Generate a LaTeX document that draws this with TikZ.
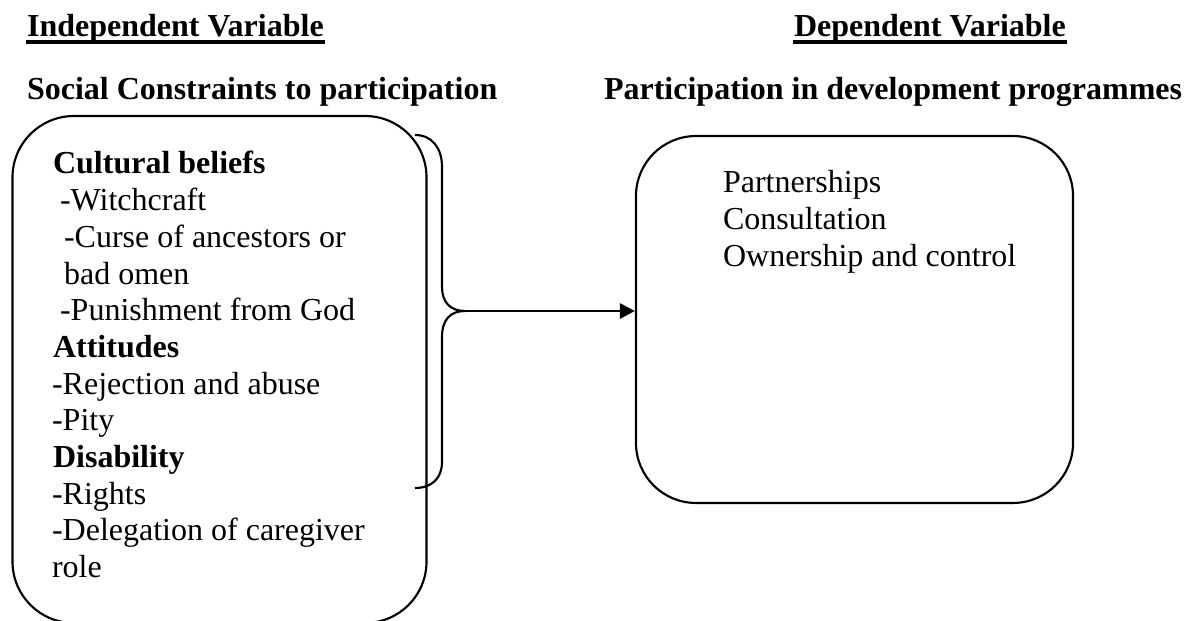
\documentclass[tikz,border=0pt]{standalone}
\usepackage{fontspec}
\setmainfont{Liberation Serif}
\usetikzlibrary{arrows.meta}
\begin{document}
\begin{tikzpicture}[x=0.375pt, y=-0.375pt, line width=0.8pt,
    heading/.style={anchor=base west, inner sep=0pt, font=\bfseries},
    entry/.style={anchor=base west, inner sep=0pt},
    roundbox/.style={draw, rounded corners=23pt, inner sep=0pt},
    ruleline/.style={line width=1.3pt},
    arrowline/.style={line width=1.1pt, -{Triangle[length=5.6pt, width=5.6pt]}}]
  \fontsize{12}{13.7}\selectfont
  \useasboundingbox (0,0) rectangle (1187,621);
  % Headings
  \node[heading] (ivar) at (26,37) {Independent Variable};
  \node[heading] (dvar) at (793,37) {Dependent Variable};
  \draw[ruleline] ([yshift=-1.9pt]ivar.base west) -- ([yshift=-1.9pt]ivar.base east);
  \draw[ruleline] ([yshift=-1.9pt]dvar.base west) -- ([yshift=-1.9pt]dvar.base east);
  \node[heading] (social) at (26,100) {Social Constraints to participation};
  \node[heading] (partic) at (603,100) {Participation in development programmes};
  % Boxes
  \node[roundbox, minimum width=155.25pt, minimum height=190.1pt] (ivbox) at (219.5,369.5) {};
  \node[roundbox, rounded corners=22.5pt, minimum width=163.9pt, minimum height=137.6pt] (dvbox) at (854.5,319.5) {};
  % Social constraints
  \foreach \dx/\txt [count=\i] in {52/{\textbf{Cultural beliefs}}, 59/-Witchcraft,
      63/-Curse of ancestors or, 63/bad omen, 59/-Punishment from God,
      52/{\textbf{Attitudes}}, 51/-Rejection and abuse, 51/-Pity,
      52/{\textbf{Disability}}, 51/-Rights, 51/-Delegation of caregiver, 51/role}
    \node[entry] (sc\i) at (\dx,{174+36.7*(\i-1)}) {\txt};
  % Participation
  \foreach \txt [count=\i] in {Partnerships, Consultation, Ownership and control}
    \node[entry] (pd\i) at (722,{193+36.7*(\i-1)}) {\txt};
  % Brace and arrow
  \coordinate (brtop) at (415,135);
  \coordinate (brtip) at (465,311);
  \coordinate (brbot) at (415,488);
  \draw (brtop) .. controls (432,135) and (442,148) .. (442,167) -- (442,287)
    .. controls (442,302) and (450,311) .. (brtip)
    .. controls (450,311) and (442,320) .. (442,337) -- (442,462)
    .. controls (442,478) and (432,488) .. (brbot);
  \draw[arrowline] (brtip) -- (brtip -| dvbox.west);
\end{tikzpicture}
\end{document}
